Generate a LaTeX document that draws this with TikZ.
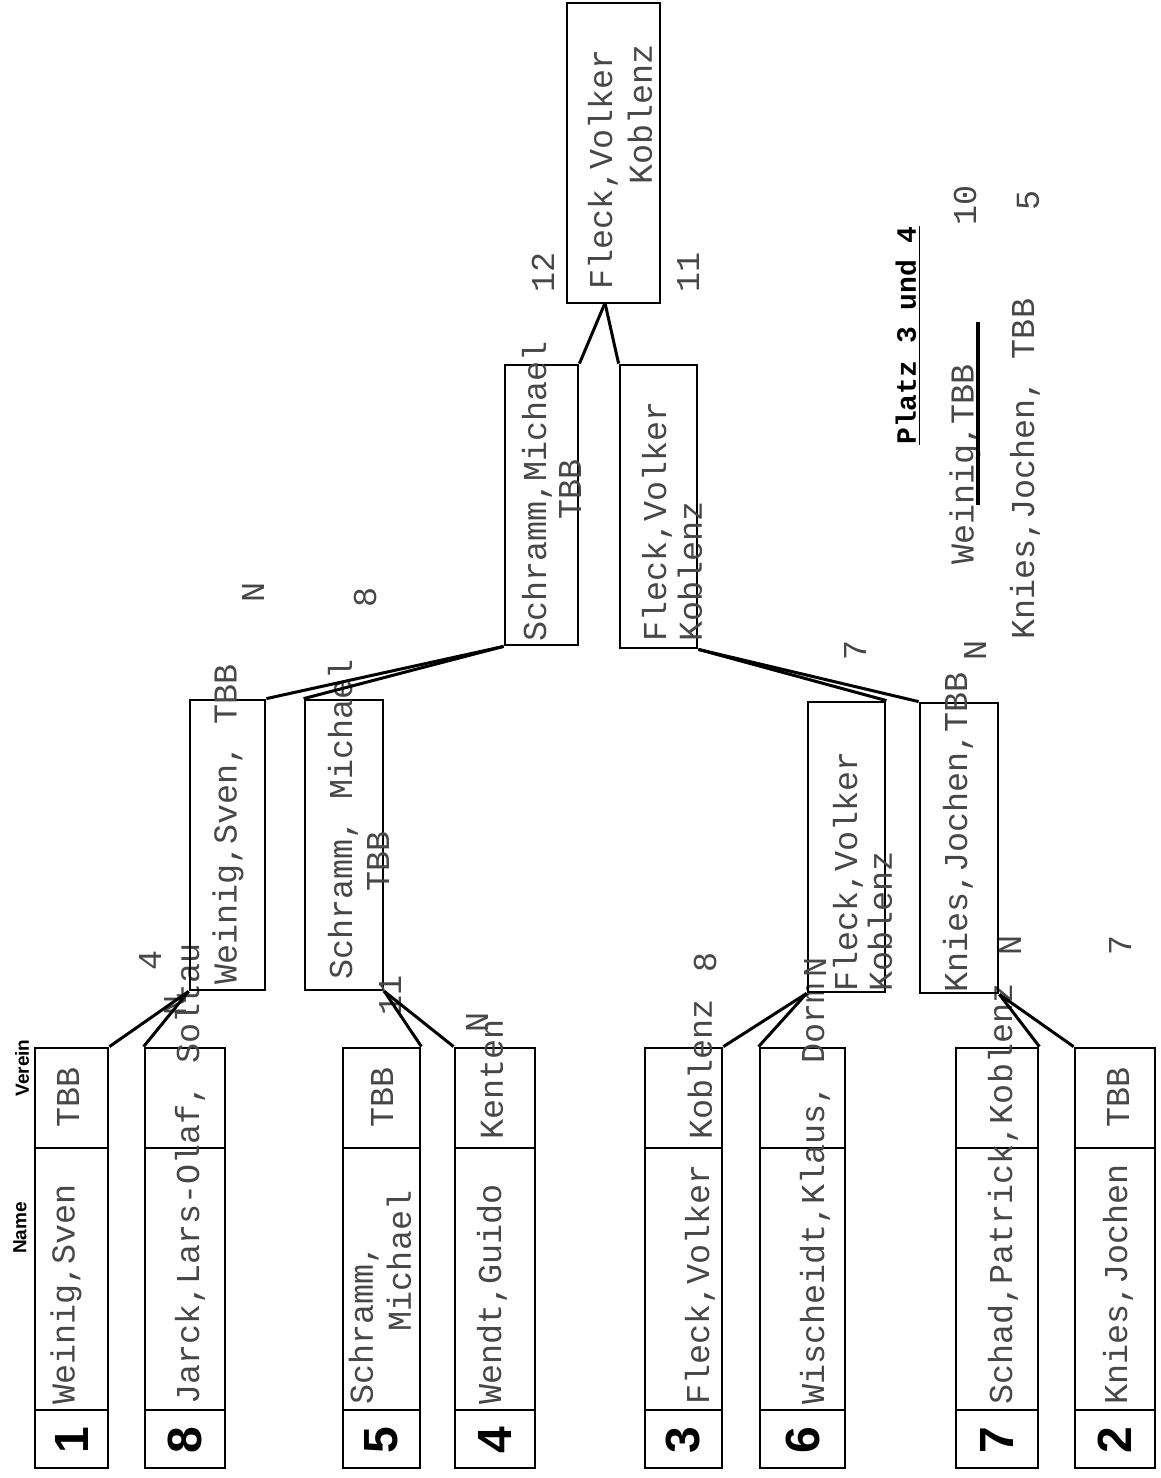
\documentclass[tikz,border=0pt]{standalone}
\usepackage{fontspec}
\newfontfamily\typewriter{Liberation Mono}
\newfontfamily\handfont{Liberation Sans}
\newcommand\tw{\typewriter\fontsize{16.7}{19}\selectfont}

\begin{document}
\begin{tikzpicture}[x=0.5pt, y=-0.5pt,
    cell/.style={draw, line width=1.4pt, inner sep=0pt},
    typed/.style={font=\tw, text=black!72, rotate=90, anchor=west, inner sep=0pt},
    score/.style={font=\tw, text=black!72, rotate=90, inner sep=0pt},
    seed/.style={font=\handfont\bfseries\fontsize{24}{24}\selectfont, rotate=90, inner sep=0pt},
    head/.style={font=\handfont\bfseries\fontsize{9.5}{10}\selectfont, rotate=90, inner sep=0pt},
    link/.style={line width=1.5pt}]
\useasboundingbox (0,0) rectangle (1161,1478);
\fill[white] (0,0) rectangle (1161,1478);

% first round: seed | name | Verein
\foreach \id/\xl/\xr/\seedno in {e1/35/108/1, e8/145/225/8, e5/343/420/5, e4/455/535/4,
                                 e3/645/722/3, e6/760/845/6, e7/956/1038/7, e2/1075/1155/2} {
  \pgfmathsetmacro\boxw{(\xr-\xl)/2}
  \node[cell, minimum width=\boxw pt, minimum height=210pt] (\id) at ({(\xl+\xr)/2},1258) {};
  \draw[cell] (\xl,1148) -- (\xr,1148) (\xl,1410) -- (\xr,1410);
  \node[seed] (\id-seed) at ({(\xl+\xr)/2},1440) {\seedno};
}
\node[head] (hname) at (20,1228) {Name};
\node[head] (hverein) at (22,1068) {Verein};

\node[typed] (t1) at (66,1405) {Weinig,Sven};
\node[typed] (v1) at (68,1128) {TBB};
\node[typed] (t8) at (190,1405) {Jarck,Lars-Olaf, Soltau};
\node[typed, align=left] (t5) at (380,1405) {Schramm,\\\hspace*{2.2em}Michael};
\node[typed] (v5) at (382,1128) {TBB};
\node[typed] (t4) at (492,1405) {Wendt,Guido};
\node[typed] (v4) at (492,1140) {Kenten};
\node[typed] (t3) at (700,1405) {Fleck,Volker};
\node[typed] (v3) at (700,1140) {Koblenz};
\node[typed] (t6) at (815,1405) {Wischeidt,Klaus, Dorm};
\node[typed] (t7) at (1003,1405) {Schad,Patrick,Koblenz};
\node[typed] (t2) at (1118,1405) {Knies,Jochen};
\node[typed] (v2) at (1118,1128) {TBB};

% second round
\node[cell, minimum width=37.5pt, minimum height=145pt] (w2) at (227.5,845) {};
\node[cell, minimum width=39pt, minimum height=145pt] (s2) at (344,845) {};
\node[cell, minimum width=38.5pt, minimum height=145pt] (f2) at (846.5,847) {};
\node[cell, minimum width=39pt, minimum height=145pt] (k2) at (959,848) {};

\node[typed] (tw2) at (228,985) {Weinig,Sven, TBB};
\node[typed] (ts2) at (343,980) {Schramm, Michael};
\node[typed] (vs2) at (378,892) {TBB};
\node[typed] (tf2) at (848,992) {Fleck,Volker};
\node[typed] (vf2) at (880,992) {Koblenz};
\node[typed] (tk2) at (958,993) {Knies,Jochen,TBB};

% semi final
\node[cell, minimum width=36.5pt, minimum height=140pt] (s3) at (541.5,505) {};
\node[cell, minimum width=38.5pt, minimum height=141.5pt] (f3) at (658.5,506.5) {};
\node[typed] (ts3) at (537,642) {Schramm,Michael};
\node[typed] (vs3) at (570,520) {TBB};
\node[typed] (tf3) at (657,642) {Fleck,Volker};
\node[typed] (vf3) at (690,642) {Koblenz};

% final
\node[cell, minimum width=46.5pt, minimum height=150pt] (fin) at (613.5,153) {};
\coordinate (fin-foot) at (605,303);
\node[typed] (tfin) at (603,290) {Fleck,Volker};
\node[typed] (vfin) at (640,185) {Koblenz};

% scores
\node[score] (sc1) at (150,960) {4};
\node[score] (sc2) at (175,1005) {N};
\node[score] (sc3) at (390,995) {11};
\node[score] (sc4) at (477,1022) {N};
\node[score] (sc5) at (705,962) {8};
\node[score] (sc6) at (815,967) {N};
\node[score] (sc7) at (1010,945) {N};
\node[score] (sc8) at (1120,945) {7};
\node[score] (sc9) at (253,592) {N};
\node[score] (sc10) at (365,597) {8};
\node[score] (sc11) at (855,650) {7};
\node[score] (sc12) at (975,650) {N};
\node[score] (sc13) at (543,272) {12};
\node[score] (sc14) at (688,272) {11};

% connectors
\draw[link] (e1.north east) -- (w2.south west);
\draw[link] (e8.north west) -- (w2.south west);
\draw[link] (e5.north east) -- (s2.south east);
\draw[link] (e4.north west) -- (s2.south east);
\draw[link] (e3.north east) -- (f2.south west);
\draw[link] (e6.north west) -- (f2.south west);
\draw[link] (e7.north east) -- (k2.south east);
\draw[link] (e2.north west) -- (k2.south east);
\draw[link] (w2.north east) -- (s3.south west);
\draw[link] (s2.north west) -- (s3.south west);
\draw[link] (f2.north east) -- (f3.south east);
\draw[link] (k2.north west) -- (f3.south east);
\draw[link] (s3.north east) -- (fin-foot);
\draw[link] (f3.north west) -- (fin-foot);

% Platz 3 und 4
\node[typed, font=\typewriter\bfseries\fontsize{14}{16}\selectfont, text=black] (platz) at (908,445) {\underline{Platz 3 und 4}};
\node[typed] (p3) at (965,565) {Weinig,TBB};
\node[score] (p3sc) at (965,205) {10};
\draw[line width=2.2pt] (978,322) -- (978,505);
\node[typed] (p4) at (1025,640) {Knies,Jochen, TBB};
\node[score] (p4sc) at (1028,200) {5};
\end{tikzpicture}
\end{document}
